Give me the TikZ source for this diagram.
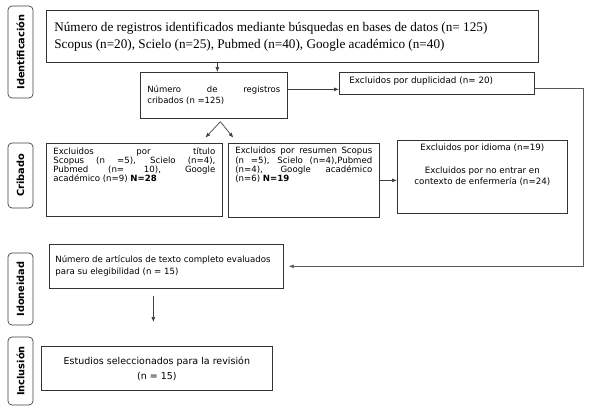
\documentclass[tikz,border=0pt]{standalone}
\usepackage{fontspec}
\setmainfont{Liberation Serif}
\setsansfont{DejaVu Sans}
\usetikzlibrary{arrows.meta}

\tikzset{
  etapa/.style={draw=black!75, rounded corners=4pt, rotate=90, minimum height=25pt,
    inner sep=0pt, font=\sffamily\bfseries\fontsize{9.8}{11}\selectfont},
  caja/.style={draw=black!80, anchor=north west, inner xsep=7pt, inner ysep=4pt,
    font=\sffamily\fontsize{8.6}{9.2}\selectfont},
  flecha/.style={draw=black!75, -{Latex[length=5pt,width=4pt]}},
}

\begin{document}
\begin{tikzpicture}[x=1pt, y=-1pt, line width=0.7pt]

    \useasboundingbox (0,0) rectangle (589,413);

    % Etapas
    \node[etapa, minimum width=92pt] (ident) at (20.5,52) {Identificación};
    \node[etapa, minimum width=65pt] (crib) at (20.5,175.5) {Cribado};
    \node[etapa, minimum width=72pt] (idon) at (20.5,289) {Idoneidad};
    \node[etapa, minimum width=68pt] (incl) at (20.5,371) {Inclusión};

    % Identificacion
    \node[caja, inner xsep=8pt, font=\rmfamily\fontsize{13.2}{17}\selectfont] (registros) at (46,10)
      {\parbox[c][44pt][c]{476pt}{\raggedright Número de registros identificados mediante búsquedas en bases de datos (n= 125)\\
       Scopus (n=20), Scielo (n=25), Pubmed (n=40), Google académico (n=40)}};

    % Cribado
    \node[caja, font=\sffamily\fontsize{8.5}{11}\selectfont] (cribados) at (140,72)
      {\parbox[c][38pt][c]{133pt}{Número de registros\linebreak cribados (n =125)}};
    \node[caja, inner xsep=10pt, font=\sffamily\fontsize{8.8}{10}\selectfont] (duplic) at (339,72)
      {\parbox[c][14pt][t]{175pt}{Excluidos por duplicidad (n= 20)}};
    \node[caja] (titulo) at (46,143)
      {\parbox[c][65pt][t]{162pt}{Excluidos por título\linebreak
       Scopus (n =5), Scielo (n=4),\linebreak
       Pubmed (n= 10), Google\linebreak
       académico (n=9) \textbf{N=28}}};
    \node[caja] (resumen) at (228,143)
      {\parbox[c][66pt][t]{137pt}{Excluidos por resumen Scopus\linebreak
       (n =5), Scielo (n=4),Pubmed\linebreak
       (n=4), Google académico\linebreak
       (n=6) \textbf{N=19}}};
    \node[caja] (idioma) at (397,140)
      {\parbox[c][65pt][t]{156pt}{\centering\fontsize{8.7}{11}\selectfont
       Excluidos por idioma (n=19)\\[12pt]
       Excluidos por no entrar en\\ contexto de enfermería (n=24)}};

    % Idoneidad e inclusion
    \node[caja, inner xsep=6pt, font=\sffamily\fontsize{8.6}{12}\selectfont] (articulos) at (49,244)
      {\parbox[c][36pt][c]{222pt}{\raggedright Número de artículos de texto completo evaluados\\
       para su elegibilidad (n = 15)}};
    \node[caja, font=\sffamily\fontsize{9.5}{15}\selectfont] (estudios) at (41,346)
      {\parbox[c][36pt][c]{217pt}{\centering Estudios seleccionados para la revisión\\ (n = 15)}};

    % Puntos libres
    \coordinate (bifur) at ([xshift=6.5pt, yshift=-3pt]cribados.south);
    \coordinate (bif-izq) at ([xshift=-15pt, yshift=-16pt]bifur);
    \coordinate (bif-der) at ([xshift=13pt, yshift=-16pt]bifur);
    \coordinate (art-sal) at ([xshift=-13pt, yshift=-7pt]articulos.south);
    \coordinate (est-ent) at ([yshift=24pt]art-sal |- estudios.north);

    % Conectores
    \draw[flecha] ([xshift=3.5pt]cribados.north |- registros.south) -- ([xshift=3.5pt]cribados.north);
    \draw[flecha] ([yshift=6pt]cribados.east) -- ([yshift=6pt]cribados.east -| duplic.west);
    \draw[flecha, draw=black!65] ([yshift=-5pt]duplic.east) -- ++(49,0) |- ([xshift=5pt]articulos.east);
    \draw[flecha] (bifur) -- (bif-izq);
    \draw[flecha] (bifur) -- (bif-der);
    \draw[flecha] (resumen.east) -- (resumen.east -| idioma.west);
    \draw[flecha] (art-sal) -- (est-ent);

\end{tikzpicture}
\end{document}
